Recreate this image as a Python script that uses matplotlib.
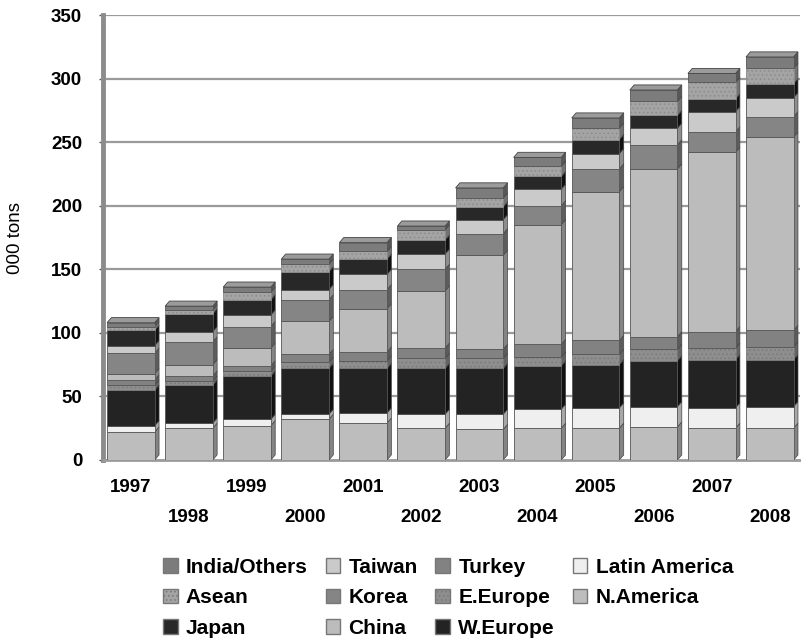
import numpy as np
import matplotlib
matplotlib.use("Agg")
from matplotlib import pyplot as plt
from matplotlib.patches import Patch, Polygon

plt.rcParams["font.family"] = ["Liberation Sans", "DejaVu Sans"]
plt.rcParams["hatch.linewidth"] = 0.6

years = ["1997", "1998", "1999", "2000", "2001", "2002",
         "2003", "2004", "2005", "2006", "2007", "2008"]

# stacked bottom to top, in thousand tons
n_america = [22, 25, 27, 32, 29, 25, 24, 25, 25, 26, 25, 25]
latin_america = [5, 4, 5, 4, 8, 11, 12, 15, 16, 16, 16, 17]
w_europe = [28, 30, 34, 36, 35, 36, 36, 34, 34, 36, 38, 37]
e_europe = [4, 3, 4, 5, 6, 8, 8, 7, 8, 9, 9, 10]
turkey = [4, 4, 4, 6, 7, 8, 7, 10, 11, 10, 13, 13]
china = [5, 9, 14, 26, 34, 45, 74, 94, 117, 132, 141, 152]
korea = [16, 18, 17, 17, 15, 17, 17, 15, 18, 19, 16, 16]
taiwan = [6, 8, 9, 8, 12, 12, 11, 13, 12, 13, 16, 15]
japan = [12, 14, 12, 14, 12, 11, 10, 10, 11, 10, 10, 11]
asean = [3, 3, 6, 6, 6, 8, 7, 8, 9, 11, 13, 12]
india_others = [3, 3, 4, 4, 7, 3, 8, 7, 8, 9, 7, 9]

series = [
    ("N.America", n_america, "#bdbdbd", None),
    ("Latin America", latin_america, "#efefef", None),
    ("W.Europe", w_europe, "#232323", None),
    ("E.Europe", e_europe, "#8e8e8e", "...."),
    ("Turkey", turkey, "#828282", None),
    ("China", china, "#bcbcbc", None),
    ("Korea", korea, "#858585", None),
    ("Taiwan", taiwan, "#cacaca", None),
    ("Japan", japan, "#282828", None),
    ("Asean", asean, "#a4a4a4", "...."),
    ("India/Others", india_others, "#7c7c7c", None),
]


def shade(color, f):
    rgb = np.array(matplotlib.colors.to_rgb(color))
    return tuple(np.clip(rgb * f, 0, 1))


fig = plt.figure(figsize=(8.01, 6.41), dpi=100)
ax = fig.add_axes([103 / 801, 1 - 460 / 641, 697 / 801, 445 / 641])

x = np.arange(len(years))
width = 0.82
dx = 0.075
dy = 4.0

for yv in range(50, 351, 50):
    ax.axhline(yv, color="#9a9a9a", lw=1.6, zorder=0)

bottom = np.zeros(len(years))
for name, vals, color, hatch in series:
    vals = np.array(vals, dtype=float)
    ax.bar(x, vals, width, bottom=bottom, color=color,
           edgecolor=shade(color, 0.85) if hatch else "#555555",
           linewidth=0.6, hatch=hatch, zorder=3)
    side = shade(color, 0.7) if color not in ("#232323", "#282828") else "#111111"
    for i in range(len(years)):
        x1 = x[i] + width / 2
        b, t = bottom[i], bottom[i] + vals[i]
        ax.add_patch(Polygon([(x1, b), (x1 + dx, b + dy), (x1 + dx, t + dy), (x1, t)],
                             closed=True, facecolor=side, edgecolor="#444444",
                             lw=0.5, zorder=2))
    bottom = bottom + vals

# top faces of the stacks
top_color = series[-1][2]
for i in range(len(years)):
    x0 = x[i] - width / 2
    x1 = x[i] + width / 2
    t = bottom[i]
    ax.add_patch(Polygon([(x0, t), (x1, t), (x1 + dx, t + dy), (x0 + dx, t + dy)],
                         closed=True, facecolor=shade(top_color, 1.25),
                         edgecolor="#444444", lw=0.6, zorder=4))

ax.set_xlim(-0.48, 11.52)
ax.set_ylim(0, 350)
ax.set_yticks(range(0, 351, 50))
ax.tick_params(axis="y", length=3, width=1, color="#555555", pad=12,
               labelsize=13.5)
for lab in ax.get_yticklabels():
    lab.set_fontweight("bold")
ax.set_xticks([])

for i, yr in enumerate(years):
    off = -27 if i % 2 == 0 else -57
    ax.annotate(yr, xy=(x[i], 0), xycoords=("data", "axes fraction"),
                xytext=(0, off * 0.72), textcoords="offset points",
                ha="center", va="center", fontsize=13.5, fontweight="bold")

ax.set_ylabel("000 tons", fontsize=13.5)
ax.yaxis.set_label_coords(-0.113, 0.5)

for s in ["top", "right"]:
    ax.spines[s].set_visible(False)
ax.spines["left"].set_color("#8c8c8c")
ax.spines["left"].set_linewidth(3.5)
ax.spines["bottom"].set_color("#9a9a9a")
ax.spines["bottom"].set_linewidth(2)

handles = [Patch(facecolor=c, edgecolor="#777777", hatch=h, label=n)
           for n, v, c, h in series[::-1]]
fig.legend(handles=handles, ncol=4, loc="upper left",
           bbox_to_anchor=(163 / 801, 1 - 558 / 641), frameon=False,
           prop={"weight": "bold", "size": 15},
           handlelength=0.7, handleheight=0.7, handletextpad=0.4,
           columnspacing=0.85, labelspacing=0.55, borderpad=0,
           borderaxespad=0)

fig.savefig("out.png", dpi=100)
